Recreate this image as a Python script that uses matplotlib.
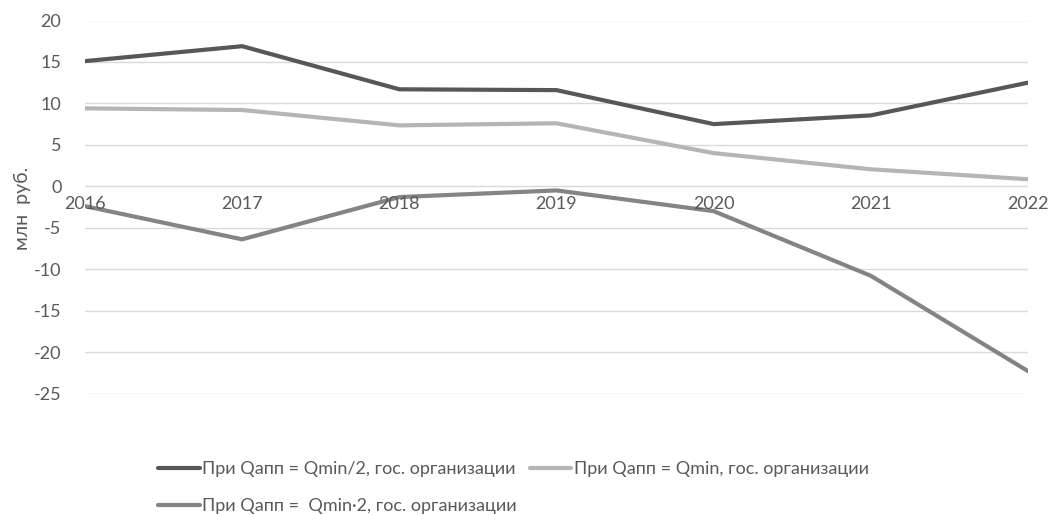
import numpy as np
import matplotlib.pyplot as plt

plt.rcParams["font.family"] = ["Lato", "DejaVu Sans"]
plt.rcParams["axes.unicode_minus"] = False

years = [2016, 2017, 2018, 2019, 2020, 2021, 2022]
half_q = [15.1, 16.9, 11.7, 11.6, 7.5, 8.55, 12.5]      # Qmin/2
min_q = [9.4, 9.2, 7.35, 7.6, 4.0, 2.05, 0.85]          # Qmin
double_q = [-2.4, -6.4, -1.3, -0.5, -3.0, -10.8, -22.3]  # Qmin*2

labels = [
    "При Qапп = Qmin/2, гос. организации",
    "При Qапп = Qmin, гос. организации",
    "При Qапп =  Qmin\u00b72, гос. организации",
]
colors = ["#575757", "#b5b5b5", "#848484"]

fig = plt.figure(figsize=(10.48, 5.15), dpi=100)
ax = fig.add_axes([85 / 1048, 1 - 393.5 / 515, (1028 - 85) / 1048, (393.5 - 20.5) / 515])

x = np.arange(len(years))
lines = []
for y, c, lab in zip([half_q, min_q, double_q], colors, labels):
    ln, = ax.plot(x, y, color=c, lw=3, label=lab, solid_capstyle="round")
    lines.append(ln)

ax.set_xlim(0, len(years) - 1)
ax.set_ylim(-25, 20)
ax.set_yticks(np.arange(-25, 21, 5))
ax.yaxis.grid(True, color="#d9d9d9", lw=1)
ax.set_axisbelow(True)
for s in ax.spines.values():
    s.set_visible(False)
ax.tick_params(axis="y", length=0, labelsize=13, labelcolor="#595959", pad=17)
ax.set_xticks([])

# category labels sit just under the zero line
for xi, yr in zip(x, years):
    ax.text(xi, -1.2, str(yr), ha="center", va="top", fontsize=13, color="#595959")

ax.set_ylabel("млн  руб.", fontsize=14, color="#595959")
ax.yaxis.set_label_coords(-0.057, 0.495)

fig.legend([lines[0], lines[2], lines[1]], [labels[0], labels[2], labels[1]],
           ncol=2, loc="lower left", bbox_to_anchor=(151 / 1048, -0.012),
           borderaxespad=0, frameon=False, fontsize=13, labelcolor="#595959",
           handlelength=2.3, handletextpad=0.15, columnspacing=0.7, labelspacing=1.15)

fig.savefig("out.png", dpi=100)
